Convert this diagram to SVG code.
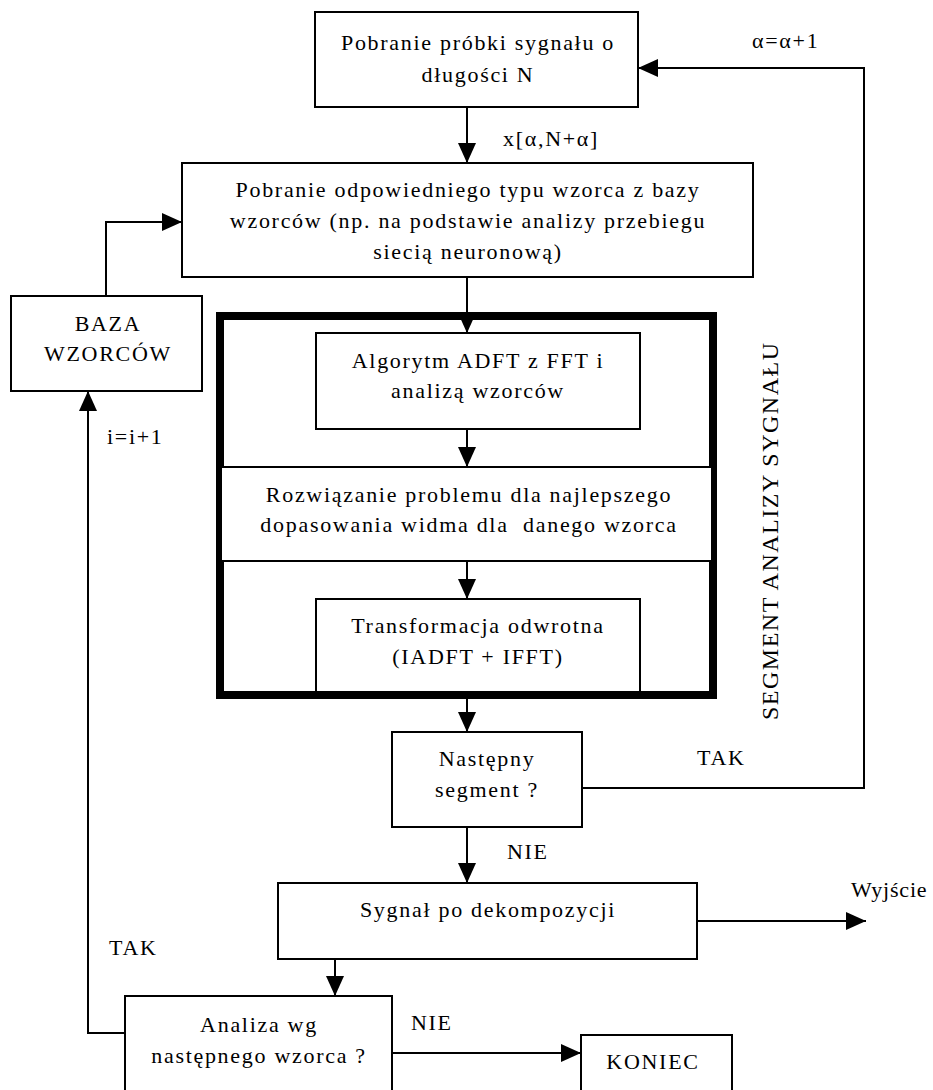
<svg xmlns="http://www.w3.org/2000/svg" width="933" height="1090" viewBox="0 0 933 1090">
<style>
  .box { fill: #fff; stroke: #000; stroke-width: 2; }
  .frame { fill: none; stroke: #000; stroke-width: 8; }
  .conn { fill: none; stroke: #000; stroke-width: 2; }
  text { font-family: "Liberation Serif", "Times New Roman", serif; font-size: 22px; letter-spacing: 1.7px; fill: #000; }
  .c { text-anchor: middle; }
  .vert { font-size: 24px; letter-spacing: 1.5px; }
  .pre { white-space: pre; }
</style>
<defs>
  <marker id="arr" markerUnits="userSpaceOnUse" markerWidth="20" markerHeight="18" refX="20" refY="9" orient="auto">
    <path d="M0,0 L20,9 L0,18 z" fill="#000"/>
  </marker>
</defs>
<rect fill="#fff" width="933" height="1090"/>

<g id="segment-frame">
  <rect class="frame" x="220" y="316" width="493" height="379"/>
  <text class="vert" transform="translate(778,720) rotate(-90)">SEGMENT ANALIZY SYGNAŁU</text>
</g>

<g id="connectors">
  <path class="conn" d="M467,107 V163" marker-end="url(#arr)"/>
  <path class="conn" d="M582,788 H864 V68 H638" marker-end="url(#arr)"/>
  <path class="conn" d="M106,296 V222 H182" marker-end="url(#arr)"/>
  <path class="conn" d="M467,277 V333" marker-end="url(#arr)"/>
  <path class="conn" d="M467,429 V467" marker-end="url(#arr)"/>
  <path class="conn" d="M467,561 V599" marker-end="url(#arr)"/>
  <path class="conn" d="M467,697 V732" marker-end="url(#arr)"/>
  <path class="conn" d="M467,827 V883" marker-end="url(#arr)"/>
  <path class="conn" d="M697,921 H866" marker-end="url(#arr)"/>
  <path class="conn" d="M335,959 V996" marker-end="url(#arr)"/>
  <path class="conn" d="M125,1033 H88 V391" marker-end="url(#arr)"/>
  <path class="conn" d="M392,1053 H581" marker-end="url(#arr)"/>
  <text x="503" y="146">x[α,N+α]</text>
  <text x="752" y="48">α=α+1</text>
  <text x="697" y="765">TAK</text>
  <text x="507" y="859">NIE</text>
  <text x="851" y="897" style="letter-spacing:0.8px">Wyjście</text>
  <text x="109" y="955">TAK</text>
  <text x="107" y="444">i=i+1</text>
  <text x="411" y="1030">NIE</text>
</g>

<g id="n-pobranie-probki">
  <rect class="box" x="315" y="12" width="323" height="95"/>
  <text class="c" x="478" y="50">Pobranie próbki sygnału o</text>
  <text class="c" x="478" y="82">długości N</text>
</g>

<g id="n-pobranie-wzorca">
  <rect class="box" x="182" y="163" width="571" height="114"/>
  <text class="c" x="468" y="197">Pobranie odpowiedniego typu wzorca z bazy</text>
  <text class="c" x="468" y="228">wzorców (np. na podstawie analizy przebiegu</text>
  <text class="c" x="468" y="259">siecią neuronową)</text>
</g>

<g id="n-baza">
  <rect class="box" x="11" y="296" width="191" height="95"/>
  <text class="c" x="108" y="331">BAZA</text>
  <text class="c" x="108" y="361">WZORCÓW</text>
</g>

<g id="n-adft">
  <rect class="box" x="316" y="333" width="324" height="96"/>
  <text class="c" x="478" y="368">Algorytm ADFT z FFT i</text>
  <text class="c" x="478" y="398">analizą wzorców</text>
</g>

<g id="n-rozwiazanie">
  <rect class="box" x="221" y="467" width="491" height="94"/>
  <text class="c" x="469" y="502">Rozwiązanie problemu dla najlepszego</text>
  <text class="c pre" x="469" y="532">dopasowania widma dla  danego wzorca</text>
</g>

<g id="n-transformacja">
  <rect class="box" x="316" y="599" width="324" height="93"/>
  <text class="c" x="478" y="633">Transformacja odwrotna</text>
  <text class="c" x="478" y="664">(IADFT + IFFT)</text>
</g>

<g id="n-nastepny">
  <rect class="box" x="392" y="732" width="190" height="95"/>
  <text class="c" x="487" y="766">Następny</text>
  <text class="c" x="487" y="797">segment ?</text>
</g>

<g id="n-sygnal">
  <rect class="box" x="278" y="883" width="419" height="76"/>
  <text class="c" x="488" y="917">Sygnał po dekompozycji</text>
</g>

<g id="n-analiza">
  <rect class="box" x="125" y="996" width="267" height="110"/>
  <text class="c" x="259" y="1032">Analiza wg</text>
  <text class="c" x="259" y="1063">następnego wzorca ?</text>
</g>

<g id="n-koniec">
  <rect class="box" x="581" y="1035" width="151" height="70"/>
  <text class="c" x="653" y="1069">KONIEC</text>
</g>
</svg>
